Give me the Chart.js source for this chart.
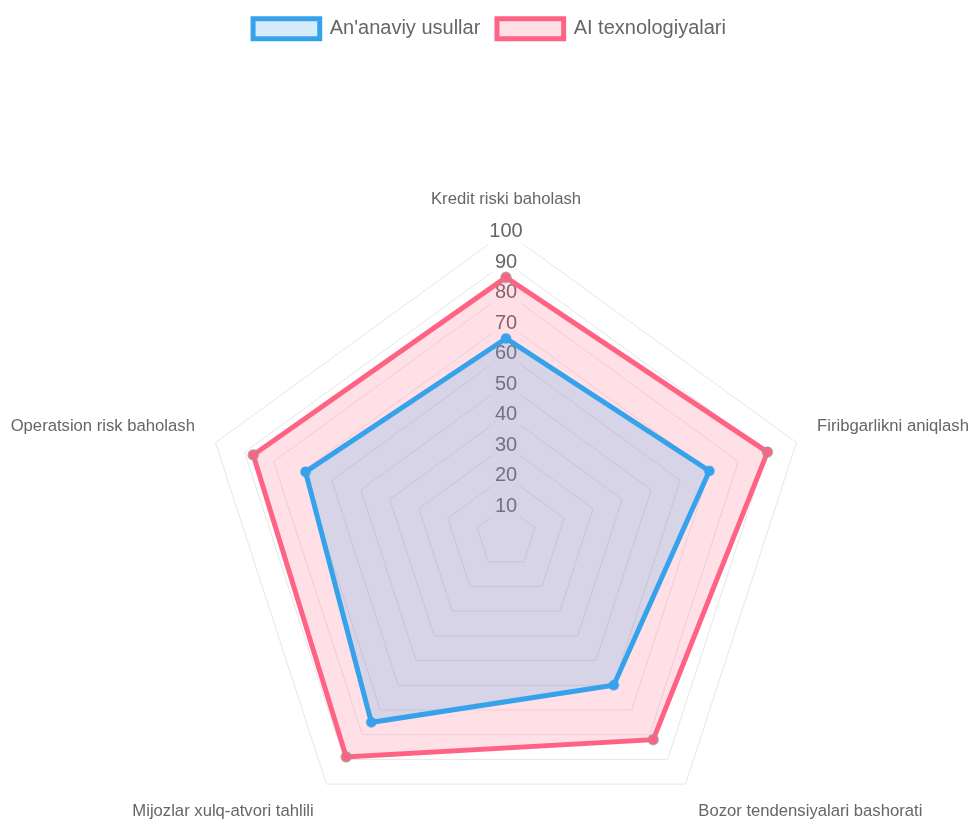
<!DOCTYPE html>
<html>
<head>
<meta charset="utf-8">
<script src="https://cdn.jsdelivr.net/npm/chart.js@4.4.0/dist/chart.umd.min.js"></script>
<style>
html, body { margin: 0; padding: 0; background: #fff; overflow: hidden; }
#page { position: relative; width: 969px; height: 821px; overflow: hidden; }
#wrap { position: absolute; left: -7px; top: 0; width: 993px; height: 999px; }
</style>
</head>
<body>
<div id="page"><div id="wrap"><canvas id="c"></canvas></div></div>
<script>
const categories = [
  "Kredit riski baholash",
  "Firibgarlikni aniqlash",
  "Bozor tendensiyalari bashorati",
  "Mijozlar xulq-atvori tahlili",
  "Operatsion risk baholash"
];
const seriesNames = ["An'anaviy usullar", "AI texnologiyalari"];
const traditionalValues = [65, 70, 60, 75, 69];
const aiValues = [85, 90, 82, 89, 87];
const tickValues = [0, 10, 20, 30, 40, 50, 60, 70, 80, 90, 100];

const S = 5 / 3;
Chart.defaults.font.family = "'Liberation Sans', Arial, Helvetica, sans-serif";
Chart.defaults.color = '#666';

new Chart(document.getElementById('c'), {
  type: 'radar',
  data: {
    labels: categories,
    datasets: [
      {
        label: seriesNames[0],
        data: traditionalValues,
        backgroundColor: 'rgba(54, 162, 235, 0.2)',
        borderColor: 'rgb(54, 162, 235)',
        borderWidth: 3 * S,
        pointBackgroundColor: 'rgb(54, 162, 235)',
        pointBorderColor: 'rgba(54, 162, 235, 0.3)',
        pointRadius: 3 * S,
        pointBorderWidth: 1 * S
      },
      {
        label: seriesNames[1],
        data: aiValues,
        backgroundColor: 'rgba(255, 99, 132, 0.2)',
        borderColor: 'rgb(255, 99, 132)',
        borderWidth: 3 * S,
        pointBackgroundColor: 'rgb(255, 99, 132)',
        pointBorderColor: 'rgba(150, 150, 150, 0.6)',
        pointRadius: 3 * S,
        pointBorderWidth: 1 * S
      }
    ]
  },
  options: {
    responsive: true,
    maintainAspectRatio: false,
    animation: false,
    layout: { padding: { top: 2 } },
    plugins: {
      legend: {
        position: 'top',
        padding: 10 * S,
        labels: {
          font: { size: 12 * S },
          boxWidth: 40 * S,
          padding: 10 * S,
          color: '#666'
        }
      },
      tooltip: { enabled: false }
    },
    scales: {
      r: {
        min: tickValues[0],
        max: tickValues[tickValues.length - 1],
        beginAtZero: true,
        angleLines: { display: false },
        grid: { color: 'rgba(0,0,0,0.1)', lineWidth: 1 },
        pointLabels: {
          font: { size: 10 * S },
          color: '#666',
          padding: 5 * S
        },
        ticks: {
          stepSize: 10,
          font: { size: 12 * S },
          color: '#666',
          backdropPadding: 2 * S,
          backdropColor: 'rgba(255,255,255,0.75)'
        }
      }
    }
  }
});
</script>
</body>
</html>
